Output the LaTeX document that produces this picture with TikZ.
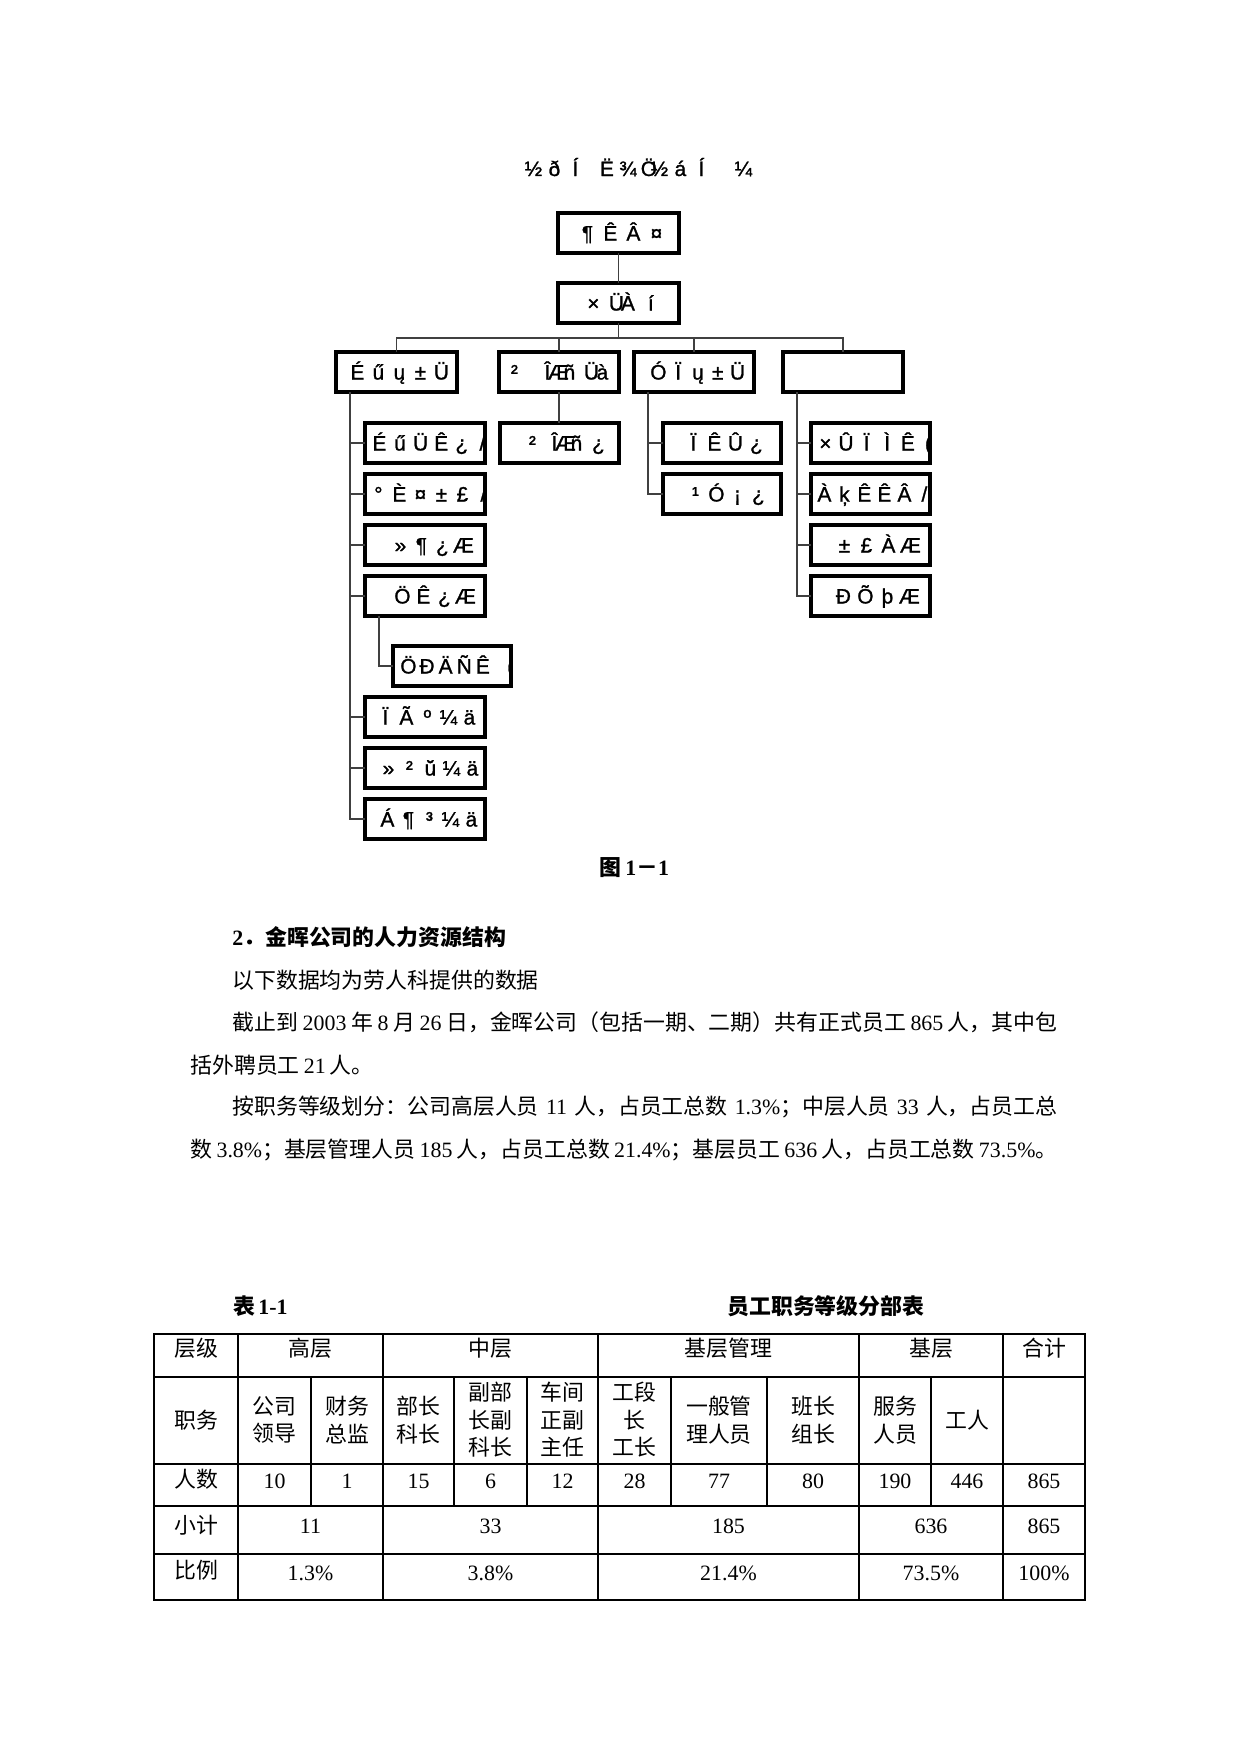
\documentclass[tikz,border=0pt]{standalone}
\usepackage{fontspec}
\setmainfont{Liberation Serif}
\newfontfamily\cjk{Noto Sans CJK SC}
\newfontfamily\mjfont[FakeBold=1.2]{Liberation Sans}
\newdimen\px \px=0.4797pt
\newdimen\mjw
\def\mjloop#1{\ifx#1\relax\else\makebox[\mjw]{#1}\expandafter\mjloop\fi}
\newcommand\mj[2]{\mjw=#1\px\relax\mjloop#2\relax}
\newcommand\zh[1]{{\cjk #1}}
\newcommand\zhb[1]{{\cjk\bfseries #1}}
\tikzset{
 boxst/.style={draw, line width=1.5pt, inner sep=0pt, outer sep=0pt},
 mjtxt/.style={inner sep=0pt, font=\mjfont\fontsize{10}{11}\selectfont},
 conn/.style={draw=black!75, line width=0.6pt},
 body/.style={inner sep=0pt, anchor=west, font=\fontsize{10.5}{12}\selectfont},
 cell/.style={inner sep=0pt, align=center, font=\cjk\fontsize{10.5}{13.2}\selectfont},
 numcell/.style={inner sep=0pt, font=\rmfamily\fontsize{10.5}{12}\selectfont},
 tline/.style={line width=0.6pt},
}
\newcommand\bx[7]{%
 \begin{scope}
  \clip (#2,#3) rectangle (#4,#5);
  \node[mjtxt, anchor=base west] (#1-t) at (#6,{(#3+#5)/2+7.5}) {#7};
 \end{scope}
 \node[boxst, minimum width={(#4-#2)*\px}, minimum height={(#5-#3)*\px}] (#1) at ({(#2+#4)/2},{(#3+#5)/2}) {};
}
\begin{document}
\begin{tikzpicture}[x=0.4797pt,y=-0.4797pt]
\useasboundingbox (0,0) rectangle (1241,1754);
\fill[white] (0,0) rectangle (1241,1754);

% title
\node[mjtxt, anchor=base west] (title) at (527.75,176) {\mj{10.5}{½~ð~Í~~Ë~¾~Ö½~á~Í~~~¼}};

% boxes
\bx{top}{558}{213}{679}{253}{581.25}{\mj{11.5}{¶~Ê~Â~¤}}
\bx{ceo}{558}{283}{679}{323}{587.25}{\mj{11.5}{×~ÜÀ~í}}
\bx{b1}{336}{352}{457}{392}{351.75}{\mj{10.5}{É~ű~ų~±~Ü}}
\bx{b2}{499}{352}{619}{392}{508.5}{\mj{11}{²~~ÎÆñ~Üà}}
\bx{b3}{634}{352}{754}{392}{653}{\mj{9.9}{Ó~Ï~ų~±~Ü}}
\bx{b4}{783}{352}{903}{392}{800}{}
\bx{L1}{365}{423}{485}{463}{373.85}{\mj{10.3}{É~ű~Ü~Ê~¿~/}}
\bx{L2}{365}{474}{485}{514}{372.75}{\mj{10.5}{°~È~¤~±~£~/}}
\bx{L3}{365}{525}{485}{565}{394.75}{\mj{10.5}{»~¶~¿~Æ}}
\bx{L4}{365}{576}{485}{616}{396.75}{\mj{10.5}{Ö~Ê~¿~Æ}}
\bx{Ls}{393}{646}{511}{686}{403.35}{\mj{9.3}{Ö~Ð~Ä~Ñ~Ê~~(}}
\bx{L5}{365}{697}{485}{737}{379.75}{\mj{10.5}{Ï~Ã~º~¼~ä}}
\bx{L6}{365}{748}{485}{788}{382.75}{\mj{10.5}{»~²~ŭ~¼~ä}}
\bx{L7}{365}{799}{485}{839}{381.75}{\mj{10.5}{Á~¶~³~¼~ä}}
\bx{M1}{500}{423}{619}{463}{526.5}{\mj{11}{²~ÎÆñ~¿}}
\bx{R1}{663}{423}{781}{463}{687.75}{\mj{10.5}{Ï~Ê~Û~¿}}
\bx{R2}{663}{474}{781}{514}{689.75}{\mj{10.5}{¹~Ó~¡~¿}}
\bx{S1}{811}{423}{930}{463}{819.85}{\mj{10.3}{×~Û~Ï~Ì~Ê~(}}
\bx{S2}{811}{474}{930}{514}{819}{\mj{10}{À~ķ~Ê~Ê~Â~/}}
\bx{S3}{811}{525}{930}{565}{838.5}{\mj{11}{±~£~À~Æ}}
\bx{S4}{811}{576}{930}{616}{837.5}{\mj{11}{Ð~Õ~þ~Æ}}

% connectors
\draw[conn] (top) -- (ceo);
\coordinate (busL) at (396.5,338);
\coordinate (busR) at (843,338);
\draw[conn] (ceo.south) -- (ceo.south |- busL);
\draw[conn] (b1.north) |- (busR) -- (b4.north);
\draw[conn] (b2.north) -- (b2.north |- busL);
\draw[conn] (b3.north) -- (b3.north |- busL);
\draw[conn] (b2.south) -- (b2.south |- M1.north);
\coordinate (t1) at (350,392);
\foreach \n in {L1,L2,L3,L4,L5,L6,L7} \draw[conn] (t1) |- (\n.west);
\coordinate (t1s) at (379,616);
\draw[conn] (t1s) |- (Ls.west);
\coordinate (t3) at (648,392);
\foreach \n in {R1,R2} \draw[conn] (t3) |- (\n.west);
\coordinate (t4) at (797,392);
\foreach \n in {S1,S2,S3,S4} \draw[conn] (t4) |- (\n.west);

% caption and body text
\node[body] (fig) at (599,868) {\zhb{图}\hspace{4\px}\textbf{1}\zhb{－}\textbf{1}};
\node[body] (h2) at (232,937) {\textbf{2}\zhb{．金晖公司的人力资源结构}};
\node[body] (p1) at (232,980) {\zh{以下数据均为劳人科提供的数据}};
\node[body] (p2) at (232,1022) {\hbox to 825\px{\zh{截止到}\hfill2003\hfill\zh{年}\hfill8\hfill\zh{月}\hfill26\hfill\zh{日，金晖公司（包括一期、二期）共有正式员工}\hfill865\hfill\zh{人，其中包}}};
\node[body] (p3) at (190,1065) {\zh{括外聘员工}\hspace{4\px}21\hspace{4\px}\zh{人。}};
\node[body] (p4) at (232,1107) {\hbox to 825\px{\zh{按职务等级划分：公司高层人员}\hfill11\hfill\zh{人，占员工总数}\hfill1.3\%\zh{；中层人员}\hfill33\hfill\zh{人，占员工总}}};
\node[body] (p5) at (190,1150) {\hbox to 867\px{\zh{数}\hfill3.8\%\zh{；基层管理人员}\hfill185\hfill\zh{人，占员工总数}\hfill21.4\%\zh{；基层员工}\hfill636\hfill\zh{人，占员工总数}\hfill73.5\%\zh{。}}};

\node[body] (tcap) at (233,1306) {\zhb{表}\hspace{3\px}\textbf{1-1}};
\node[body] (tname) at (727,1306) {\zhb{员工职务等级分部表}};

% table
\draw[tline] (154,1334) rectangle (1085,1600);
\foreach \y in {1377,1464,1506,1554} \draw[tline] (154,\y) -- (1085,\y);
\foreach \x in {238,383,598,859,1003} \draw[tline] (\x,1334) -- (\x,1600);
\foreach \x in {311,454,527,767,931} \draw[tline] (\x,1377) -- (\x,1506);
\draw[line width=1.1pt] (671,1377) -- (671,1506);

\foreach \x/\t [count=\i] in {196/层级, 310.5/高层, 490.5/中层, 728.5/基层管理, 931/基层, 1044/合计}
  \node[cell] (ha-\i) at (\x,1348) {\t};
\foreach \x/\t [count=\i] in {196/职务, 274.5/{公司\\领导}, 347/{财务\\总监}, 418.5/{部长\\科长}, 490.5/{副部\\长副\\科长}, 562.5/{车间\\正副\\主任}, 634.5/{工段\\长\\工长}, 719/{一般管\\理人员}, 813/{班长\\组长}, 895/{服务\\人员}, 967/工人}
  \node[cell] (hb-\i) at (\x,1420) {\t};
\node[cell] (rc-0) at (196,1479) {人数};
\foreach \x/\t [count=\i] in {274.5/10, 347/1, 418.5/15, 490.5/6, 562.5/12, 634.5/28, 719/77, 813/80, 895/190, 967/446, 1044/865}
  \node[numcell] (rc-\i) at (\x,1481) {\t};
\node[cell] (rd-0) at (196,1525) {小计};
\foreach \x/\t [count=\i] in {310.5/11, 490.5/33, 728.5/185, 931/636, 1044/865}
  \node[numcell] (rd-\i) at (\x,1526) {\t};
\node[cell] (re-0) at (196,1570) {比例};
\foreach \x/\t [count=\i] in {310.5/1.3\%, 490.5/3.8\%, 728.5/21.4\%, 931/73.5\%, 1044/100\%}
  \node[numcell] (re-\i) at (\x,1573) {\t};
\end{tikzpicture}
\end{document}
